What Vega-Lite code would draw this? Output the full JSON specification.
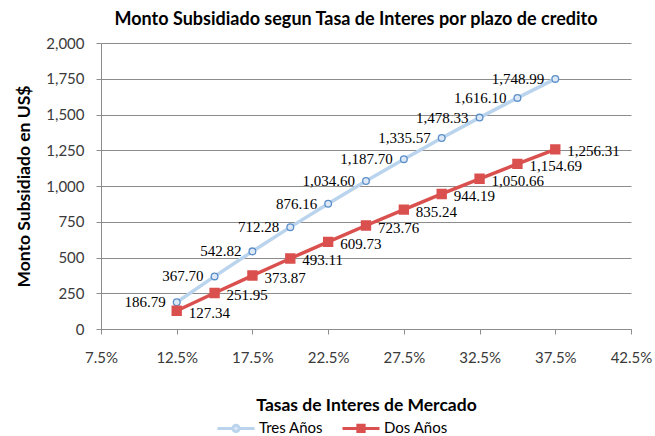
{
  "$schema": "https://vega.github.io/schema/vega-lite/v6.json",
  "width": 530,
  "height": 286,
  "autosize": {"type": "none"},
  "padding": {"left": 101, "top": 43, "right": 24, "bottom": 107},
  "background": "white",
  "title": {
    "text": "Monto Subsidiado segun Tasa de Interes por plazo de credito",
    "font": "Lato",
    "fontSize": 18,
    "fontWeight": "bold",
    "color": "#000000",
    "anchor": "middle",
    "dx": -10,
    "offset": 7
  },
  "config": {
    "view": {"stroke": null},
    "axis": {
      "labelFont": "Lato",
      "titleFont": "Lato",
      "labelColor": "#3a3a3a",
      "titleColor": "#000000",
      "domainColor": "#8c8c8c",
      "tickColor": "#8c8c8c",
      "gridColor": "#8c8c8c"
    }
  },
  "data": {
    "values": [
      {"tasa": 0.125, "serie": "Tres Años", "monto": 186.79},
      {"tasa": 0.15, "serie": "Tres Años", "monto": 367.70},
      {"tasa": 0.175, "serie": "Tres Años", "monto": 542.82},
      {"tasa": 0.2, "serie": "Tres Años", "monto": 712.28},
      {"tasa": 0.225, "serie": "Tres Años", "monto": 876.16},
      {"tasa": 0.25, "serie": "Tres Años", "monto": 1034.60},
      {"tasa": 0.275, "serie": "Tres Años", "monto": 1187.70},
      {"tasa": 0.3, "serie": "Tres Años", "monto": 1335.57},
      {"tasa": 0.325, "serie": "Tres Años", "monto": 1478.33},
      {"tasa": 0.35, "serie": "Tres Años", "monto": 1616.10},
      {"tasa": 0.375, "serie": "Tres Años", "monto": 1748.99},
      {"tasa": 0.125, "serie": "Dos Años", "monto": 127.34},
      {"tasa": 0.15, "serie": "Dos Años", "monto": 251.95},
      {"tasa": 0.175, "serie": "Dos Años", "monto": 373.87},
      {"tasa": 0.2, "serie": "Dos Años", "monto": 493.11},
      {"tasa": 0.225, "serie": "Dos Años", "monto": 609.73},
      {"tasa": 0.25, "serie": "Dos Años", "monto": 723.76},
      {"tasa": 0.275, "serie": "Dos Años", "monto": 835.24},
      {"tasa": 0.3, "serie": "Dos Años", "monto": 944.19},
      {"tasa": 0.325, "serie": "Dos Años", "monto": 1050.66},
      {"tasa": 0.35, "serie": "Dos Años", "monto": 1154.69},
      {"tasa": 0.375, "serie": "Dos Años", "monto": 1256.31}
    ]
  },
  "encoding": {
    "x": {
      "field": "tasa",
      "type": "quantitative",
      "scale": {"domain": [0.075, 0.425], "nice": false, "zero": false},
      "axis": {
        "values": [0.075, 0.125, 0.175, 0.225, 0.275, 0.325, 0.375, 0.425],
        "format": ".1%",
        "grid": false,
        "title": "Tasas de Interes de Mercado",
        "titleFontSize": 17.5,
        "titleFontWeight": "bold",
        "titlePadding": 31,
        "labelFontSize": 15,
        "labelPadding": 16,
        "tickSize": 5,
        "labelFlush": false
      }
    },
    "y": {
      "field": "monto",
      "type": "quantitative",
      "scale": {"domain": [0, 2000], "nice": false},
      "axis": {
        "values": [0, 250, 500, 750, 1000, 1250, 1500, 1750, 2000],
        "format": ",.0f",
        "title": "Monto Subsidiado en US$",
        "titleFontSize": 17.5,
        "titleFontWeight": "bold",
        "titlePadding": 12,
        "labelFontSize": 15,
        "labelPadding": 12,
        "tickSize": 5
      }
    }
  },
  "layer": [
    {
      "mark": {"type": "line", "strokeWidth": 3.5},
      "encoding": {
        "color": {
          "field": "serie",
          "type": "nominal",
          "scale": {"domain": ["Tres Años", "Dos Años"], "range": ["#BAD4EE", "#D9504E"]},
          "legend": {
            "title": null,
            "orient": "none",
            "legendX": 115,
            "legendY": 365,
            "direction": "horizontal",
            "labelFont": "Lato",
            "labelFontSize": 15,
            "labelColor": "#000000",
            "symbolSize": 1369,
            "symbolStrokeWidth": 3,
            "columnPadding": 12,
            "labelOffset": 3,
            "symbolType": "M-1,0H1",
            "encode": {
              "symbols": {
                "update": {
                  "shape": {"signal": "datum.value === 'Tres Años' ? 'M-1,0H-0.17M0.17,0H1M0.17,0A0.17,0.17,0,1,1,-0.17,0A0.17,0.17,0,1,1,0.17,0' : 'M-1,0H1M-0.17,-0.17H0.17V0.17H-0.17Z'"},
                  "fill": {"signal": "datum.value === 'Tres Años' ? '#DCE8F6' : '#D9504E'"},
                  "fillOpacity": {"value": 1}
                }
              }
            }
          }
        }
      }
    },
    {
      "transform": [{"filter": "datum.serie === 'Tres Años'"}],
      "mark": {"type": "point", "shape": "circle", "size": 45, "filled": true, "fill": "#DCE8F6", "stroke": "#5B8FC9", "strokeWidth": 1.3, "opacity": 1}
    },
    {
      "transform": [{"filter": "datum.serie === 'Dos Años'"}],
      "mark": {"type": "point", "shape": "square", "size": 70, "filled": true, "fill": "#D9504E", "stroke": "#D9504E", "opacity": 1}
    },
    {
      "transform": [{"filter": "datum.serie === 'Tres Años'"}],
      "mark": {"type": "text", "align": "right", "baseline": "middle", "dx": -11, "dy": 0, "font": "Liberation Serif", "fontSize": 15, "color": "#000000"},
      "encoding": {"text": {"field": "monto", "type": "quantitative", "format": ",.2f"}}
    },
    {
      "transform": [{"filter": "datum.serie === 'Dos Años'"}],
      "mark": {"type": "text", "align": "left", "baseline": "middle", "dx": 12, "dy": 2, "font": "Liberation Serif", "fontSize": 15, "color": "#000000"},
      "encoding": {"text": {"field": "monto", "type": "quantitative", "format": ",.2f"}}
    }
  ]
}
